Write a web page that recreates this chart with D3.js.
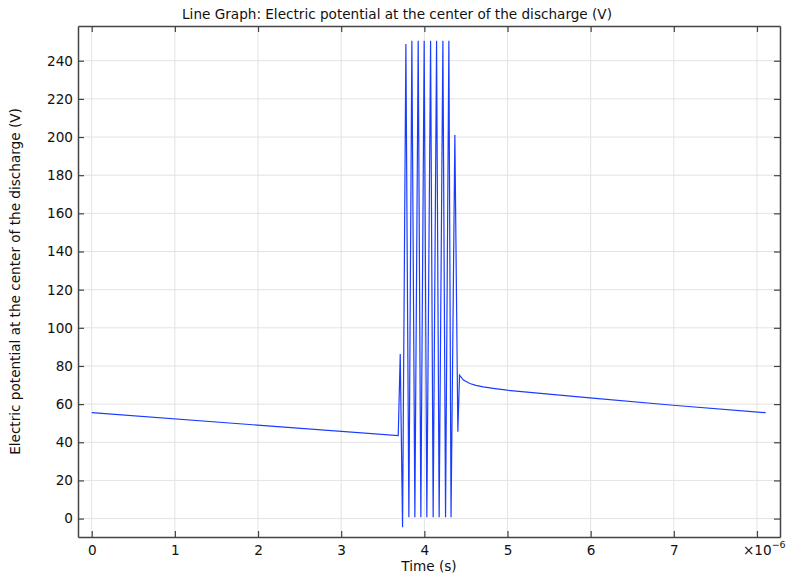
<!DOCTYPE html>
<html>
<head>
<meta charset="utf-8">
<script src="https://cdn.jsdelivr.net/npm/d3@7"></script>
<style>
  body { margin: 0; background: #fff; }
  svg { font-family: "DejaVu Sans", sans-serif; }
</style>
</head>
<body>
<div id="chart"></div>
<script>
// time in microseconds, potential in volts
const timeUs = [0, 3.686, 3.710, 3.738, 3.778, 3.814, 3.850, 3.886, 3.926, 3.958, 3.998,
  4.030, 4.075, 4.106, 4.147, 4.178, 4.223, 4.255, 4.295, 4.321, 4.367, 4.403, 4.423,
  4.47, 4.547, 4.62, 4.707, 4.85, 4.996, 5.99, 6.991, 8.105];
const potential = [55.5, 43.5, 86.3, -4.5, 248.8, 0.7, 250.5, 0.7, 250.5, 0.7, 250.5,
  0.7, 250.5, 0.7, 250.5, 0.7, 250.5, 0.7, 250.5, 0.7, 201, 45.5, 75.2,
  72.6, 70.8, 69.8, 69.0, 68.1, 67.3, 63.3, 59.4, 55.5];
const xTicks = [0, 1, 2, 3, 4, 5, 6, 7, 8];
const yTicks = d3.range(0, 241, 20);

const width = 788, height = 576;
const margin = {top: 26, right: 8, bottom: 39, left: 78};
const fontSize = 13.6;

const x = d3.scaleLinear().domain([-0.165, 8.277]).range([margin.left, width - margin.right]);
const y = d3.scaleLinear().domain([-9.65, 258.2]).range([height - margin.bottom, margin.top]);

const svg = d3.select("#chart").append("svg")
  .attr("width", width)
  .attr("height", height);

// grid
svg.append("g").selectAll("line").data(xTicks).join("line")
  .attr("x1", d => x(d)).attr("x2", d => x(d))
  .attr("y1", y.range()[0]).attr("y2", y.range()[1])
  .attr("stroke", "#e3e3e3");
svg.append("g").selectAll("line").data(yTicks).join("line")
  .attr("x1", x.range()[0]).attr("x2", x.range()[1])
  .attr("y1", d => y(d)).attr("y2", d => y(d))
  .attr("stroke", "#e3e3e3");

// line
const line = d3.line().x((d, i) => x(timeUs[i])).y(d => y(d));
svg.append("path")
  .datum(potential)
  .attr("d", line)
  .attr("fill", "none")
  .attr("stroke", "#1a3cff")
  .attr("stroke-width", 1.2);

// axes with inward ticks
const tickLen = 6;
const fmtX = d => d === 8 ? "" : d;
const axBottom = svg.append("g")
  .attr("transform", `translate(0,${y.range()[0]})`)
  .call(d3.axisBottom(x).tickValues(xTicks).tickSizeInner(-tickLen).tickSizeOuter(0).tickFormat(fmtX));
axBottom.selectAll(".tick text").attr("y", 17.5).attr("dy", 0);
const axTop = svg.append("g")
  .attr("transform", `translate(0,${y.range()[1]})`)
  .call(d3.axisTop(x).tickValues(xTicks).tickSizeInner(-tickLen).tickSizeOuter(0).tickFormat(""));
const axLeft = svg.append("g")
  .attr("transform", `translate(${x.range()[0]},0)`)
  .call(d3.axisLeft(y).tickValues(yTicks).tickSizeInner(-tickLen).tickSizeOuter(0).tickPadding(5));
const axRight = svg.append("g")
  .attr("transform", `translate(${x.range()[1]},0)`)
  .call(d3.axisRight(y).tickValues(yTicks).tickSizeInner(-tickLen).tickSizeOuter(0).tickFormat(""));

[axBottom, axTop, axLeft, axRight].forEach(g => {
  g.selectAll(".domain").attr("stroke", "#444").attr("stroke-width", 1.5);
  g.selectAll(".tick line").attr("stroke", "#444").attr("stroke-width", 1.2);
  g.selectAll("text").attr("font-size", fontSize).attr("fill", "#111")
    .attr("font-family", "DejaVu Sans, sans-serif");
});

// exponent label in place of the last tick
const expLabel = svg.append("text")
  .attr("x", x(8) - 14)
  .attr("y", y.range()[0] + 17.5)
  .attr("font-size", fontSize)
  .attr("fill", "#111");
expLabel.append("tspan").text("×10");
expLabel.append("tspan").attr("dy", -7).attr("font-size", 9.5).text("−6");

// titles
svg.append("text")
  .attr("x", (x.range()[0] + x.range()[1]) / 2 - 32)
  .attr("y", 18.5)
  .attr("text-anchor", "middle")
  .attr("font-size", fontSize)
  .attr("fill", "#111")
  .text("Line Graph: Electric potential at the center of the discharge (V)");

svg.append("text")
  .attr("x", (x.range()[0] + x.range()[1]) / 2)
  .attr("y", 570.5)
  .attr("text-anchor", "middle")
  .attr("font-size", fontSize)
  .attr("fill", "#111")
  .text("Time (s)");

svg.append("text")
  .attr("transform", `translate(19.5,${(y.range()[0] + y.range()[1]) / 2}) rotate(-90)`)
  .attr("text-anchor", "middle")
  .attr("font-size", fontSize)
  .attr("fill", "#111")
  .text("Electric potential at the center of the discharge (V)");
</script>
</body>
</html>
